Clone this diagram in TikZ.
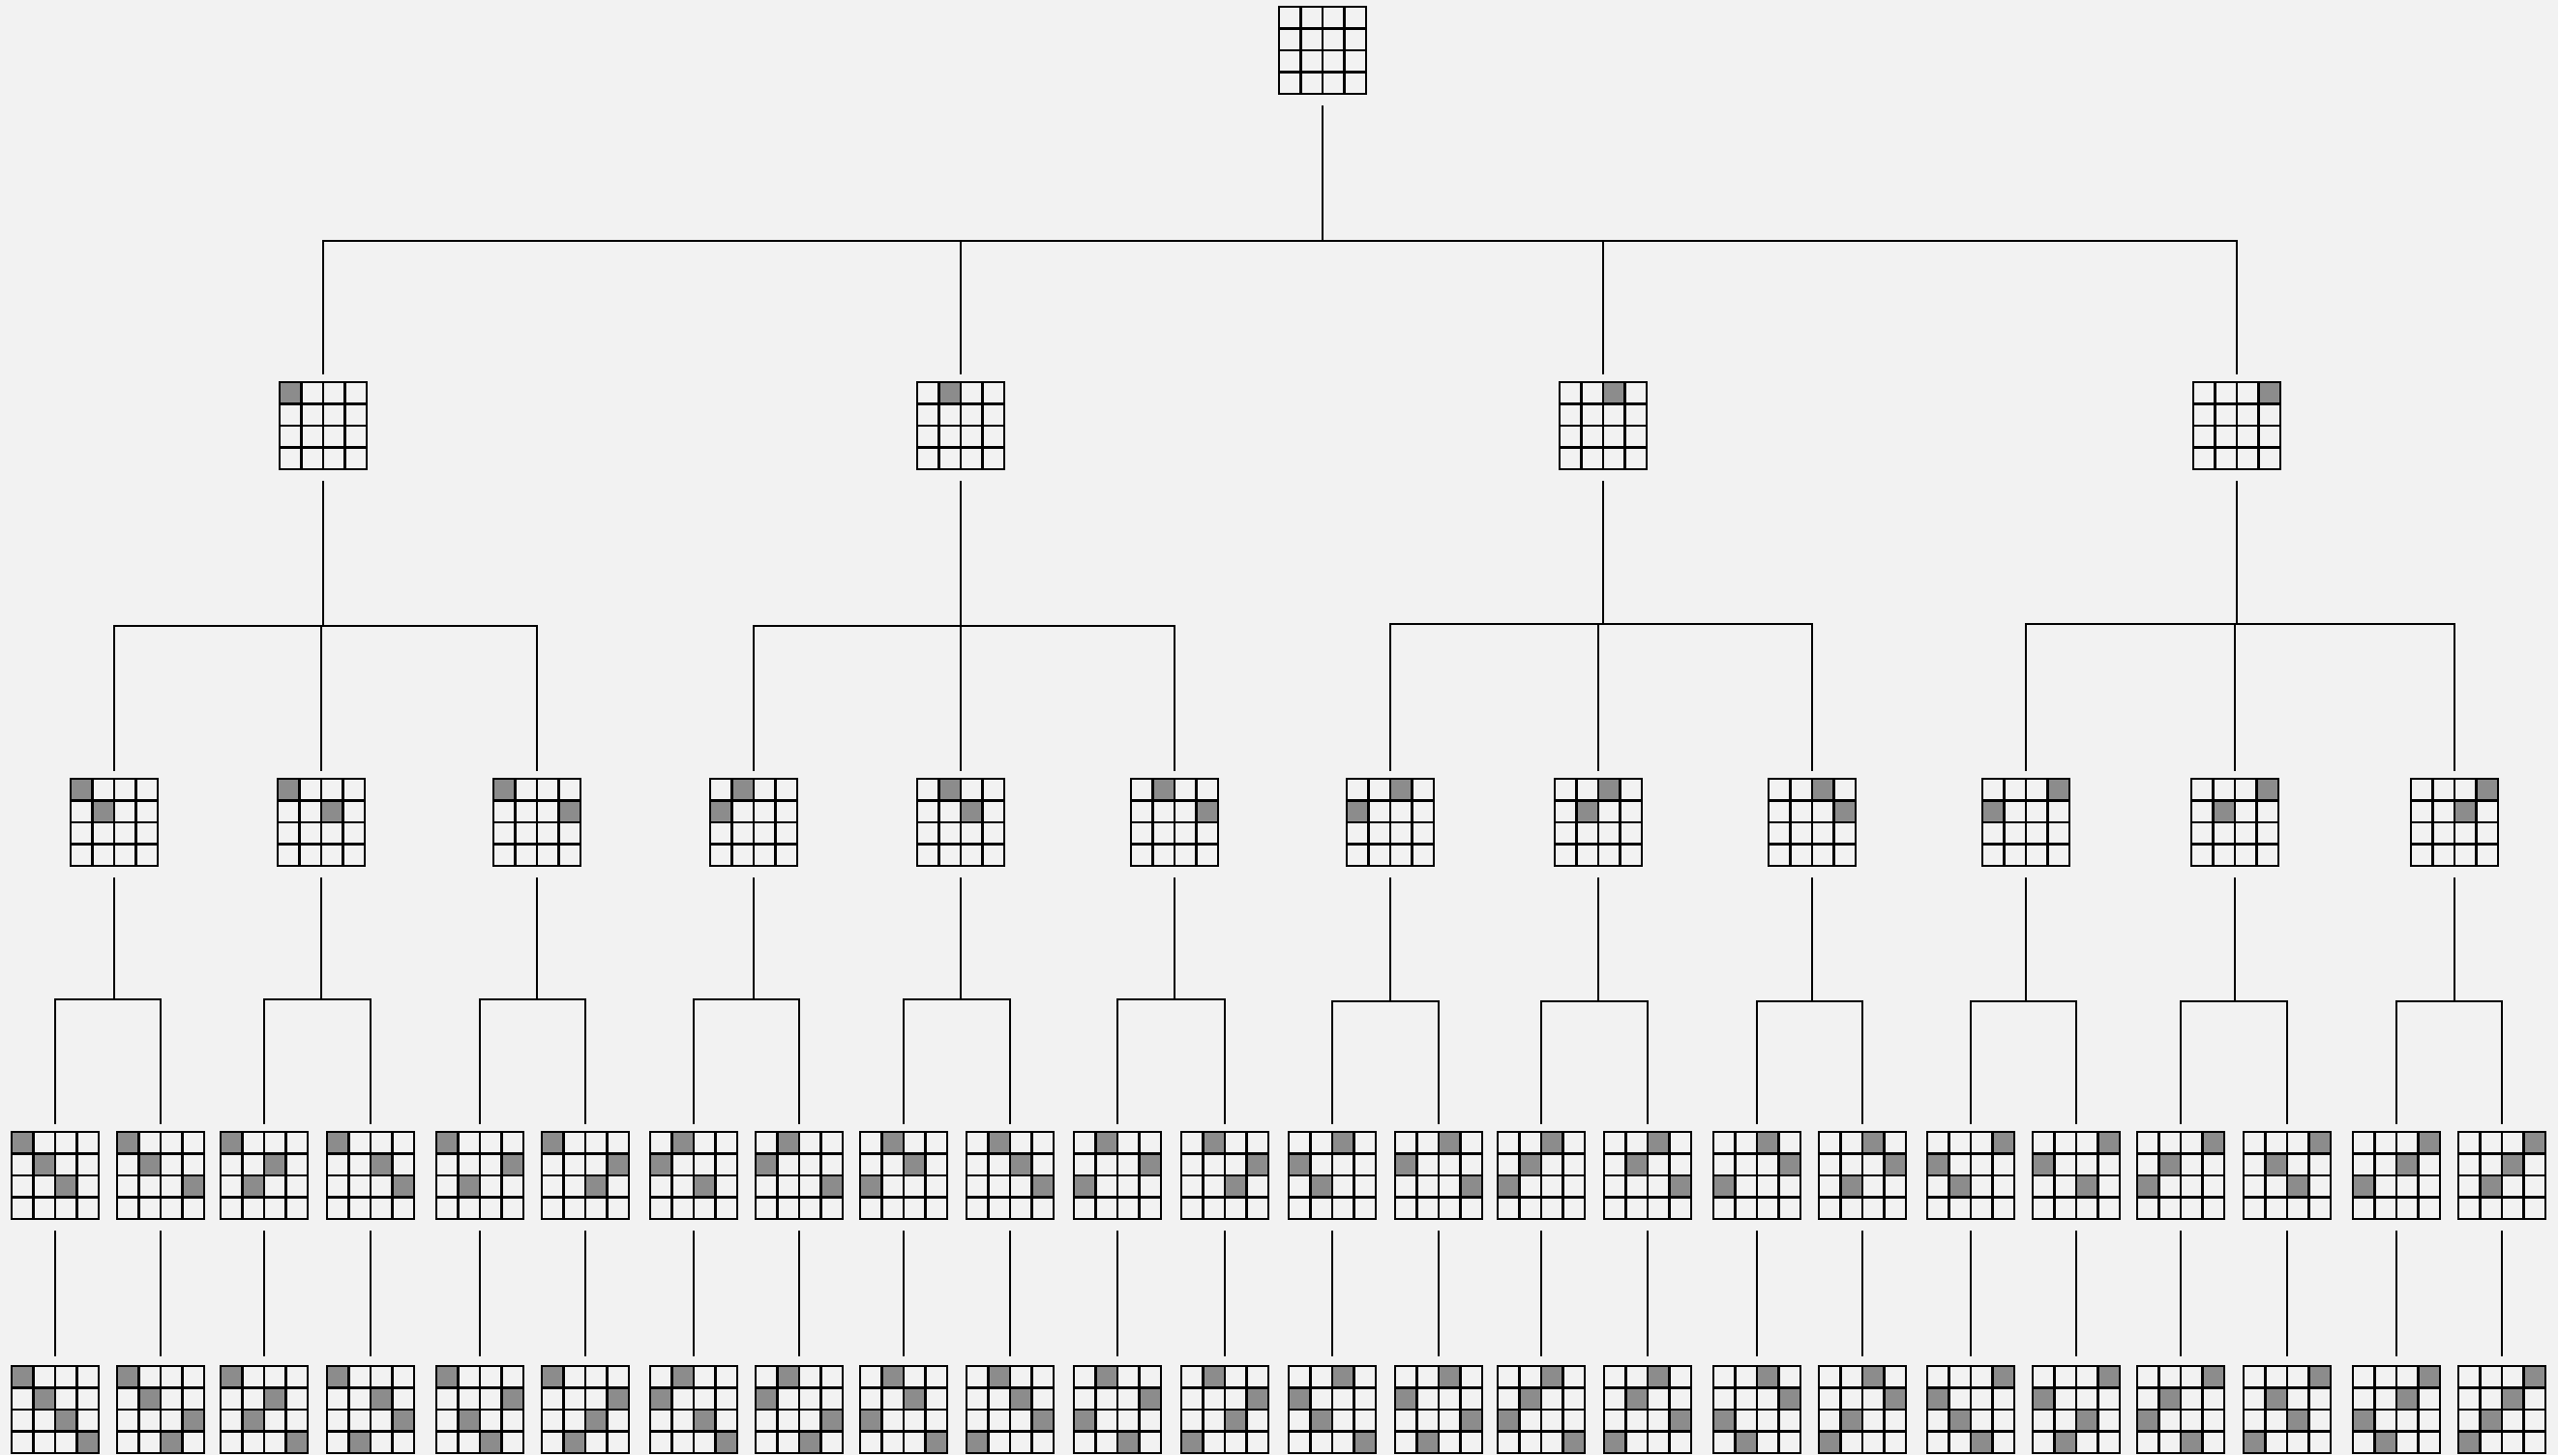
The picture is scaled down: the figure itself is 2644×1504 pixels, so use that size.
\documentclass[tikz,border=0pt]{standalone}
\usetikzlibrary{calc}
\definecolor{bg}{HTML}{F2F2F2}
\definecolor{qgray}{HTML}{8C8C8C}
\tikzset{
  boardbox/.style={rectangle,draw=none,inner sep=0pt,outer sep=0pt,minimum size=22.5pt},
  queen/.style={fill=qgray},
  gridline/.style={line width=0.7pt,black,line cap=rect},
  conn/.style={line width=0.55pt,black},
}
\newcommand\qgridlines[1]{%
  \begin{scope}[shift={(#1.center)}]
    \foreach \i in {0,...,4}{%
      \draw[gridline] ({-45+\i*22.5},-45) -- ({-45+\i*22.5},45);
      \draw[gridline] (-45,{-45+\i*22.5}) -- (45,{-45+\i*22.5});
    }
  \end{scope}}
\newcommand\qb[4]{%
  \node[boardbox] (#1) at (#2,#3) {};
  \begin{scope}[shift={(#1.center)}]
    \foreach \r/\c in {#4} \fill[queen] ({(\c-3)*22.5},{(\r-3)*22.5}) rectangle +(22.5,22.5);
  \end{scope}
  \qgridlines{#1}}
\newcommand\fan[3]{%
  \coordinate (#1h) at (0,#2);
  \coordinate (#1j) at (#1.center |- #1h);
  \draw[conn] ([yshift=-3pt]#1.south) -- (#1j);
  \foreach \k in {#3} \draw[conn] (#1j) -| ([yshift=2pt]\k.north);}
\newcommand\one[2]{\draw[conn] ([yshift=-3pt]#1.south) -- ([yshift=2.5pt]#2.north);}
\begin{document}
\begin{tikzpicture}[x=0.25pt,y=-0.25pt]
\fill[bg] (0,0) rectangle (2644,1504);
\useasboundingbox (0,0) rectangle (2644,1504);
% root
\node[boardbox] (q) at (1367,52) {};
\qgridlines{q}
% level 1
\qb{q1}{334}{440}{1/1}
\qb{q2}{993}{440}{1/2}
\qb{q3}{1657}{440}{1/3}
\qb{q4}{2312}{440}{1/4}
% level 2
\qb{q12}{118}{850}{1/1,2/2}
\qb{q13}{332}{850}{1/1,2/3}
\qb{q14}{555}{850}{1/1,2/4}
\qb{q21}{779}{850}{1/2,2/1}
\qb{q23}{993}{850}{1/2,2/3}
\qb{q24}{1214}{850}{1/2,2/4}
\qb{q31}{1437}{850}{1/3,2/1}
\qb{q32}{1652}{850}{1/3,2/2}
\qb{q34}{1873}{850}{1/3,2/4}
\qb{q41}{2094}{850}{1/4,2/1}
\qb{q42}{2310}{850}{1/4,2/2}
\qb{q43}{2537}{850}{1/4,2/3}
% level 3
\qb{q123}{57}{1215}{1/1,2/2,3/3}
\qb{q124}{166}{1215}{1/1,2/2,3/4}
\qb{q132}{273}{1215}{1/1,2/3,3/2}
\qb{q134}{383}{1215}{1/1,2/3,3/4}
\qb{q142}{496}{1215}{1/1,2/4,3/2}
\qb{q143}{605}{1215}{1/1,2/4,3/3}
\qb{q213}{717}{1215}{1/2,2/1,3/3}
\qb{q214}{826}{1215}{1/2,2/1,3/4}
\qb{q231}{934}{1215}{1/2,2/3,3/1}
\qb{q234}{1044}{1215}{1/2,2/3,3/4}
\qb{q241}{1155}{1215}{1/2,2/4,3/1}
\qb{q243}{1266}{1215}{1/2,2/4,3/3}
\qb{q312}{1377}{1215}{1/3,2/1,3/2}
\qb{q314}{1487}{1215}{1/3,2/1,3/4}
\qb{q321}{1593}{1215}{1/3,2/2,3/1}
\qb{q324}{1703}{1215}{1/3,2/2,3/4}
\qb{q341}{1816}{1215}{1/3,2/4,3/1}
\qb{q342}{1925}{1215}{1/3,2/4,3/2}
\qb{q412}{2037}{1215}{1/4,2/1,3/2}
\qb{q413}{2146}{1215}{1/4,2/1,3/3}
\qb{q421}{2254}{1215}{1/4,2/2,3/1}
\qb{q423}{2364}{1215}{1/4,2/2,3/3}
\qb{q431}{2477}{1215}{1/4,2/3,3/1}
\qb{q432}{2586}{1215}{1/4,2/3,3/2}
% level 4
\qb{q1234}{57}{1457}{1/1,2/2,3/3,4/4}
\qb{q1243}{166}{1457}{1/1,2/2,3/4,4/3}
\qb{q1324}{273}{1457}{1/1,2/3,3/2,4/4}
\qb{q1342}{383}{1457}{1/1,2/3,3/4,4/2}
\qb{q1423}{496}{1457}{1/1,2/4,3/2,4/3}
\qb{q1432}{605}{1457}{1/1,2/4,3/3,4/2}
\qb{q2134}{717}{1457}{1/2,2/1,3/3,4/4}
\qb{q2143}{826}{1457}{1/2,2/1,3/4,4/3}
\qb{q2314}{934}{1457}{1/2,2/3,3/1,4/4}
\qb{q2341}{1044}{1457}{1/2,2/3,3/4,4/1}
\qb{q2413}{1155}{1457}{1/2,2/4,3/1,4/3}
\qb{q2431}{1266}{1457}{1/2,2/4,3/3,4/1}
\qb{q3124}{1377}{1457}{1/3,2/1,3/2,4/4}
\qb{q3142}{1487}{1457}{1/3,2/1,3/4,4/2}
\qb{q3214}{1593}{1457}{1/3,2/2,3/1,4/4}
\qb{q3241}{1703}{1457}{1/3,2/2,3/4,4/1}
\qb{q3412}{1816}{1457}{1/3,2/4,3/1,4/2}
\qb{q3421}{1925}{1457}{1/3,2/4,3/2,4/1}
\qb{q4123}{2037}{1457}{1/4,2/1,3/2,4/3}
\qb{q4132}{2146}{1457}{1/4,2/1,3/3,4/2}
\qb{q4213}{2254}{1457}{1/4,2/2,3/1,4/3}
\qb{q4231}{2364}{1457}{1/4,2/2,3/3,4/1}
\qb{q4312}{2477}{1457}{1/4,2/3,3/1,4/2}
\qb{q4321}{2586}{1457}{1/4,2/3,3/2,4/1}
% connectors
\fan{q}{249}{q1,q2,q3,q4}
\fan{q1}{647}{q12,q13,q14}
\fan{q2}{647}{q21,q23,q24}
\fan{q3}{645}{q31,q32,q34}
\fan{q4}{645}{q41,q42,q43}
\fan{q12}{1033}{q123,q124}
\fan{q13}{1033}{q132,q134}
\fan{q14}{1033}{q142,q143}
\fan{q21}{1033}{q213,q214}
\fan{q23}{1033}{q231,q234}
\fan{q24}{1033}{q241,q243}
\fan{q31}{1035}{q312,q314}
\fan{q32}{1035}{q321,q324}
\fan{q34}{1035}{q341,q342}
\fan{q41}{1035}{q412,q413}
\fan{q42}{1035}{q421,q423}
\fan{q43}{1035}{q431,q432}
\one{q123}{q1234}\one{q124}{q1243}\one{q132}{q1324}\one{q134}{q1342}
\one{q142}{q1423}\one{q143}{q1432}\one{q213}{q2134}\one{q214}{q2143}
\one{q231}{q2314}\one{q234}{q2341}\one{q241}{q2413}\one{q243}{q2431}
\one{q312}{q3124}\one{q314}{q3142}\one{q321}{q3214}\one{q324}{q3241}
\one{q341}{q3412}\one{q342}{q3421}\one{q412}{q4123}\one{q413}{q4132}
\one{q421}{q4213}\one{q423}{q4231}\one{q431}{q4312}\one{q432}{q4321}
\end{tikzpicture}
\end{document}
